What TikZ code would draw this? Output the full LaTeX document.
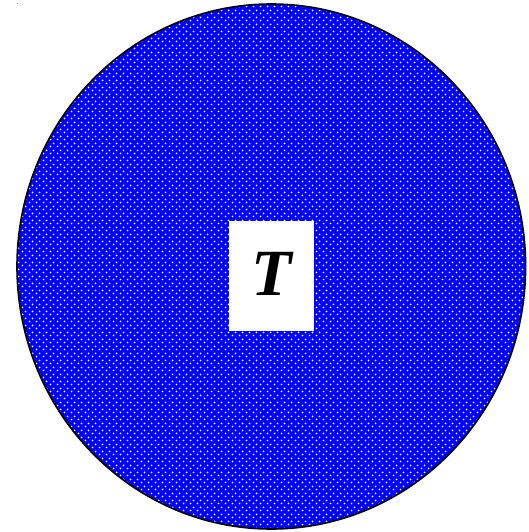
\documentclass[tikz,border=0pt]{standalone}
\usepackage{fontspec}
\setmainfont{Liberation Serif}
\usetikzlibrary{patterns.meta}
% white dots, staggered, on a 7pt tile
\tikzdeclarepattern{
  name=dotgrid,
  type=uncolored,
  bounding box={(0pt,0pt) and (7pt,7pt)},
  tile size={(7pt,7pt)},
  code={
    \fill (1.75pt,1.75pt) circle (1.1pt);
    \fill (5.25pt,5.25pt) circle (1.1pt);
  }
}

\begin{document}
\begin{tikzpicture}[x=1pt, y=-1pt,
    disc/.style={draw=black, line width=1.6pt, preaction={fill=blue},
                 pattern=dotgrid, pattern color=white},
    tbox/.style={fill=white, minimum width=85pt, minimum height=110pt, inner sep=0pt},
    tletter/.style={font=\fontsize{66}{66}\selectfont\bfseries\itshape, inner sep=0pt}]
    \useasboundingbox (0,0) rectangle (528,532);

    % Explicit Coordinates (pixels of the sheet)
    \coordinate (C)  at (271.3, 266.5);   % centre of the disc
    \coordinate (B)  at (271.5, 276);     % centre of the white box

    \fill[gray] (17,3) rectangle (18,4);  % speck in the corner

    \draw[disc] (C) ellipse [x radius=254.3, y radius=262.5];
    \node[tbox] (box) at (B) {};
    \node[tletter] (tlabel) at (272, 274) {T};
\end{tikzpicture}
\end{document}
